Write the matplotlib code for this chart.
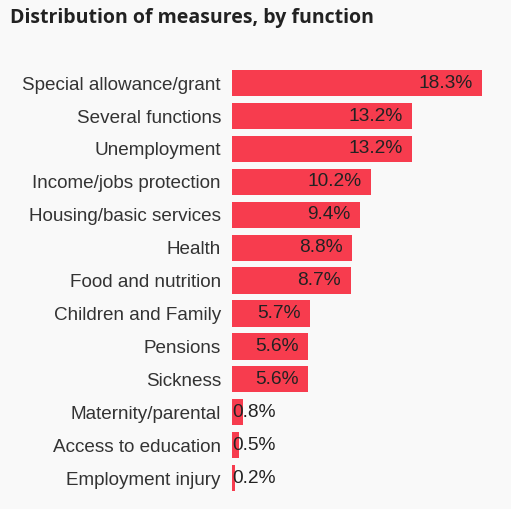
import matplotlib.pyplot as plt

categories = ["Special allowance/grant", "Several functions", "Unemployment",
              "Income/jobs protection", "Housing/basic services", "Health",
              "Food and nutrition", "Children and Family", "Pensions", "Sickness",
              "Maternity/parental", "Access to education", "Employment injury"]
shares = [18.3, 13.2, 13.2, 10.2, 9.4, 8.8, 8.7, 5.7, 5.6, 5.6, 0.8, 0.5, 0.2]

bg = "#f9f9f9"
fig = plt.figure(figsize=(5.11, 5.09), dpi=100, facecolor=bg)
ax = fig.add_axes([0.454, 0.0285, 0.489, 0.8405], facecolor=bg)

pos = list(range(len(categories)))
ax.barh(pos, shares, height=0.8, color="#f73c4e")
ax.set_xlim(0, 18.3)
ax.set_ylim(len(categories) - 0.5, -0.5)

ax.set_yticks(pos)
ax.set_yticklabels(categories, fontsize=13.6, color="#333333", family="Liberation Sans")
ax.tick_params(axis="y", length=0, pad=8)
ax.set_xticks([])
for s in ax.spines.values():
    s.set_visible(False)

for p, v in zip(pos, shares):
    txt = f"{v}%"
    if v < 1:
        ax.text(0.05, p, txt, ha="left", va="center", fontsize=13.8,
                color="#222222", family="Liberation Sans")
    else:
        ax.text(v - 0.7, p, txt, ha="right", va="center", fontsize=13.8,
                color="#222222", family="Liberation Sans")

fig.text(0.02, 0.965, "Distribution of measures, by function", fontsize=14,
         fontweight="bold", color="#222222", ha="left", va="center",
         family="Open Sans")

fig.savefig("out.png", dpi=100, facecolor=bg)
